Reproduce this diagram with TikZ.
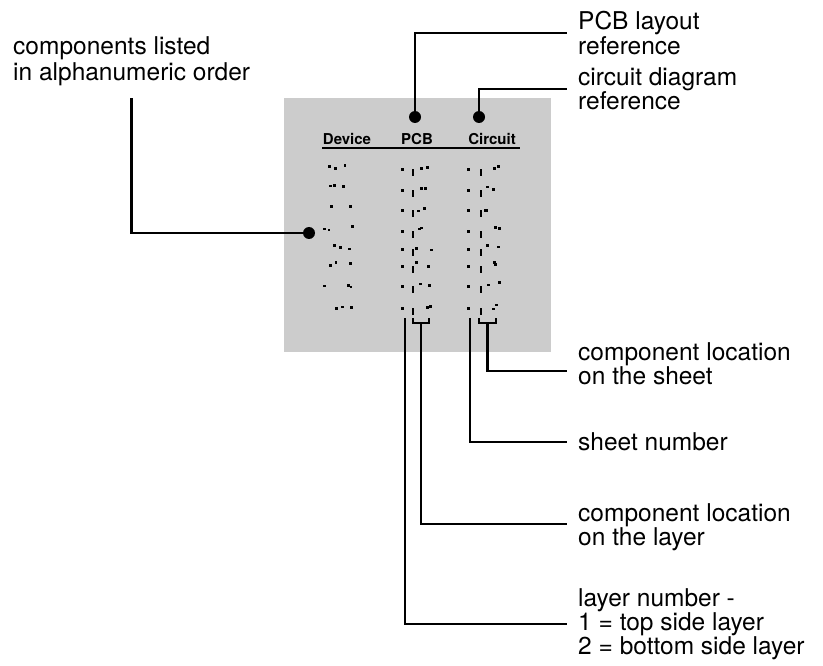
\documentclass[tikz,border=0pt]{standalone}
\usepackage{fontspec}
\setmainfont{TeX Gyre Heros}
\usetikzlibrary{calc}
\newcommand\notefont{\fontsize{24.5}{22}\selectfont}
\newcommand\leftnotefont{\fontsize{24.5}{26}\selectfont}
\tikzset{
  panel/.style = {rectangle, fill=black!20, draw=none, inner sep=0pt},
  hd/.style    = {font=\fontsize{15}{15}\selectfont\bfseries, inner sep=0pt},
  rule/.style  = {line width=2.6pt, black},
  lead/.style  = {line width=2.6pt, black},
  brk/.style   = {line width=2.2pt, black},
  dotm/.style  = {circle, fill=black, inner sep=0pt, minimum size=12pt},
  note/.style  = {font=\notefont, align=left, anchor=west, inner sep=0pt},
}

\begin{document}
\begin{tikzpicture}[x=1pt, y=-1pt]
  \useasboundingbox (0,0) rectangle (823,666);
  % the sheet of the parts list
  \node[panel, anchor=north west, minimum width=267pt, minimum height=254pt] (sheet) at (284,98) {};
  \node[hd] (hdev) at (347,139) {Device};
  \node[hd] (hpcb) at (417,139) {PCB};
  \node[hd] (hcir) at (492,139) {Circuit};
  \draw[rule] (322,148) -- (520,148);
  % entries (unreadable at this size)
  \pgfmathsetseed{11}
  \foreach \r in {166,187,207,228,246,263,283,305} {
    \foreach \k in {1,...,3}
      \fill ({322+rnd*34},{\r-3+rnd*6}) rectangle ++(2.6,2.6);
    \fill (401,{\r+2}) rectangle ++(2.6,2.6);
    \fill (412,{\r+3}) rectangle ++(2.4,7);
    \foreach \k in {1,2}
      \fill ({415+rnd*15},{\r-2+rnd*5}) rectangle ++(3,2.6);
    \fill (467,{\r+2}) rectangle ++(2.6,2.6);
    \fill (480,{\r+3}) rectangle ++(2.4,7);
    \foreach \k in {1,2}
      \fill ({484+rnd*14},{\r-2+rnd*5}) rectangle ++(3,2.6);
  }
  % markers
  \node[dotm] (ddev) at (309,233) {};
  \node[dotm] (dpcb) at (415,117) {};
  \node[dotm] (dcir) at (479,117) {};
  \coordinate (lay) at (405,318);
  \coordinate (sht) at (470,318);
  \coordinate (bpcb) at (421,323);
  \coordinate (bcir) at (487.5,323);
  \draw[brk] (413,318) |- (429,323) -- (429,318);
  \draw[brk] (479,318) |- (496,323) -- (496,318);
  % labels
  \node[note, font=\leftnotefont] (ldev) at (13,61) {components listed\\in alphanumeric order};
  \node[note] (lpcb) at (578,33) {PCB layout\\reference};
  \node[note] (lcir) at (578,89) {circuit diagram\\reference};
  \node[note] (lsl) at (578,364) {component location\\on the sheet};
  \node[note] (lsn) at (578,442) {sheet number};
  \node[note] (lll) at (578,527) {component location\\on the layer};
  \node[note] (lln) at (578,624) {layer number -\\1 = top side layer\\2 = bottom side layer};
  % leaders
  \draw[lead] (ddev.center) -| ([yshift=-12pt]ldev.south);
  \draw[lead] (dpcb.center) |- ([xshift=-11pt]lpcb.west);
  \draw[lead] (dcir.center) |- ([xshift=-11pt]lcir.west);
  \draw[lead] (bcir) |- ([xshift=-11pt,yshift=-7pt]lsl.west);
  \draw[lead] (sht) |- ([xshift=-11pt]lsn.west);
  \draw[lead] (bpcb) |- ([xshift=-11pt,yshift=3pt]lll.west);
  \draw[lead] (lay) |- ([xshift=-11pt]lln.west);
\end{tikzpicture}
\end{document}
